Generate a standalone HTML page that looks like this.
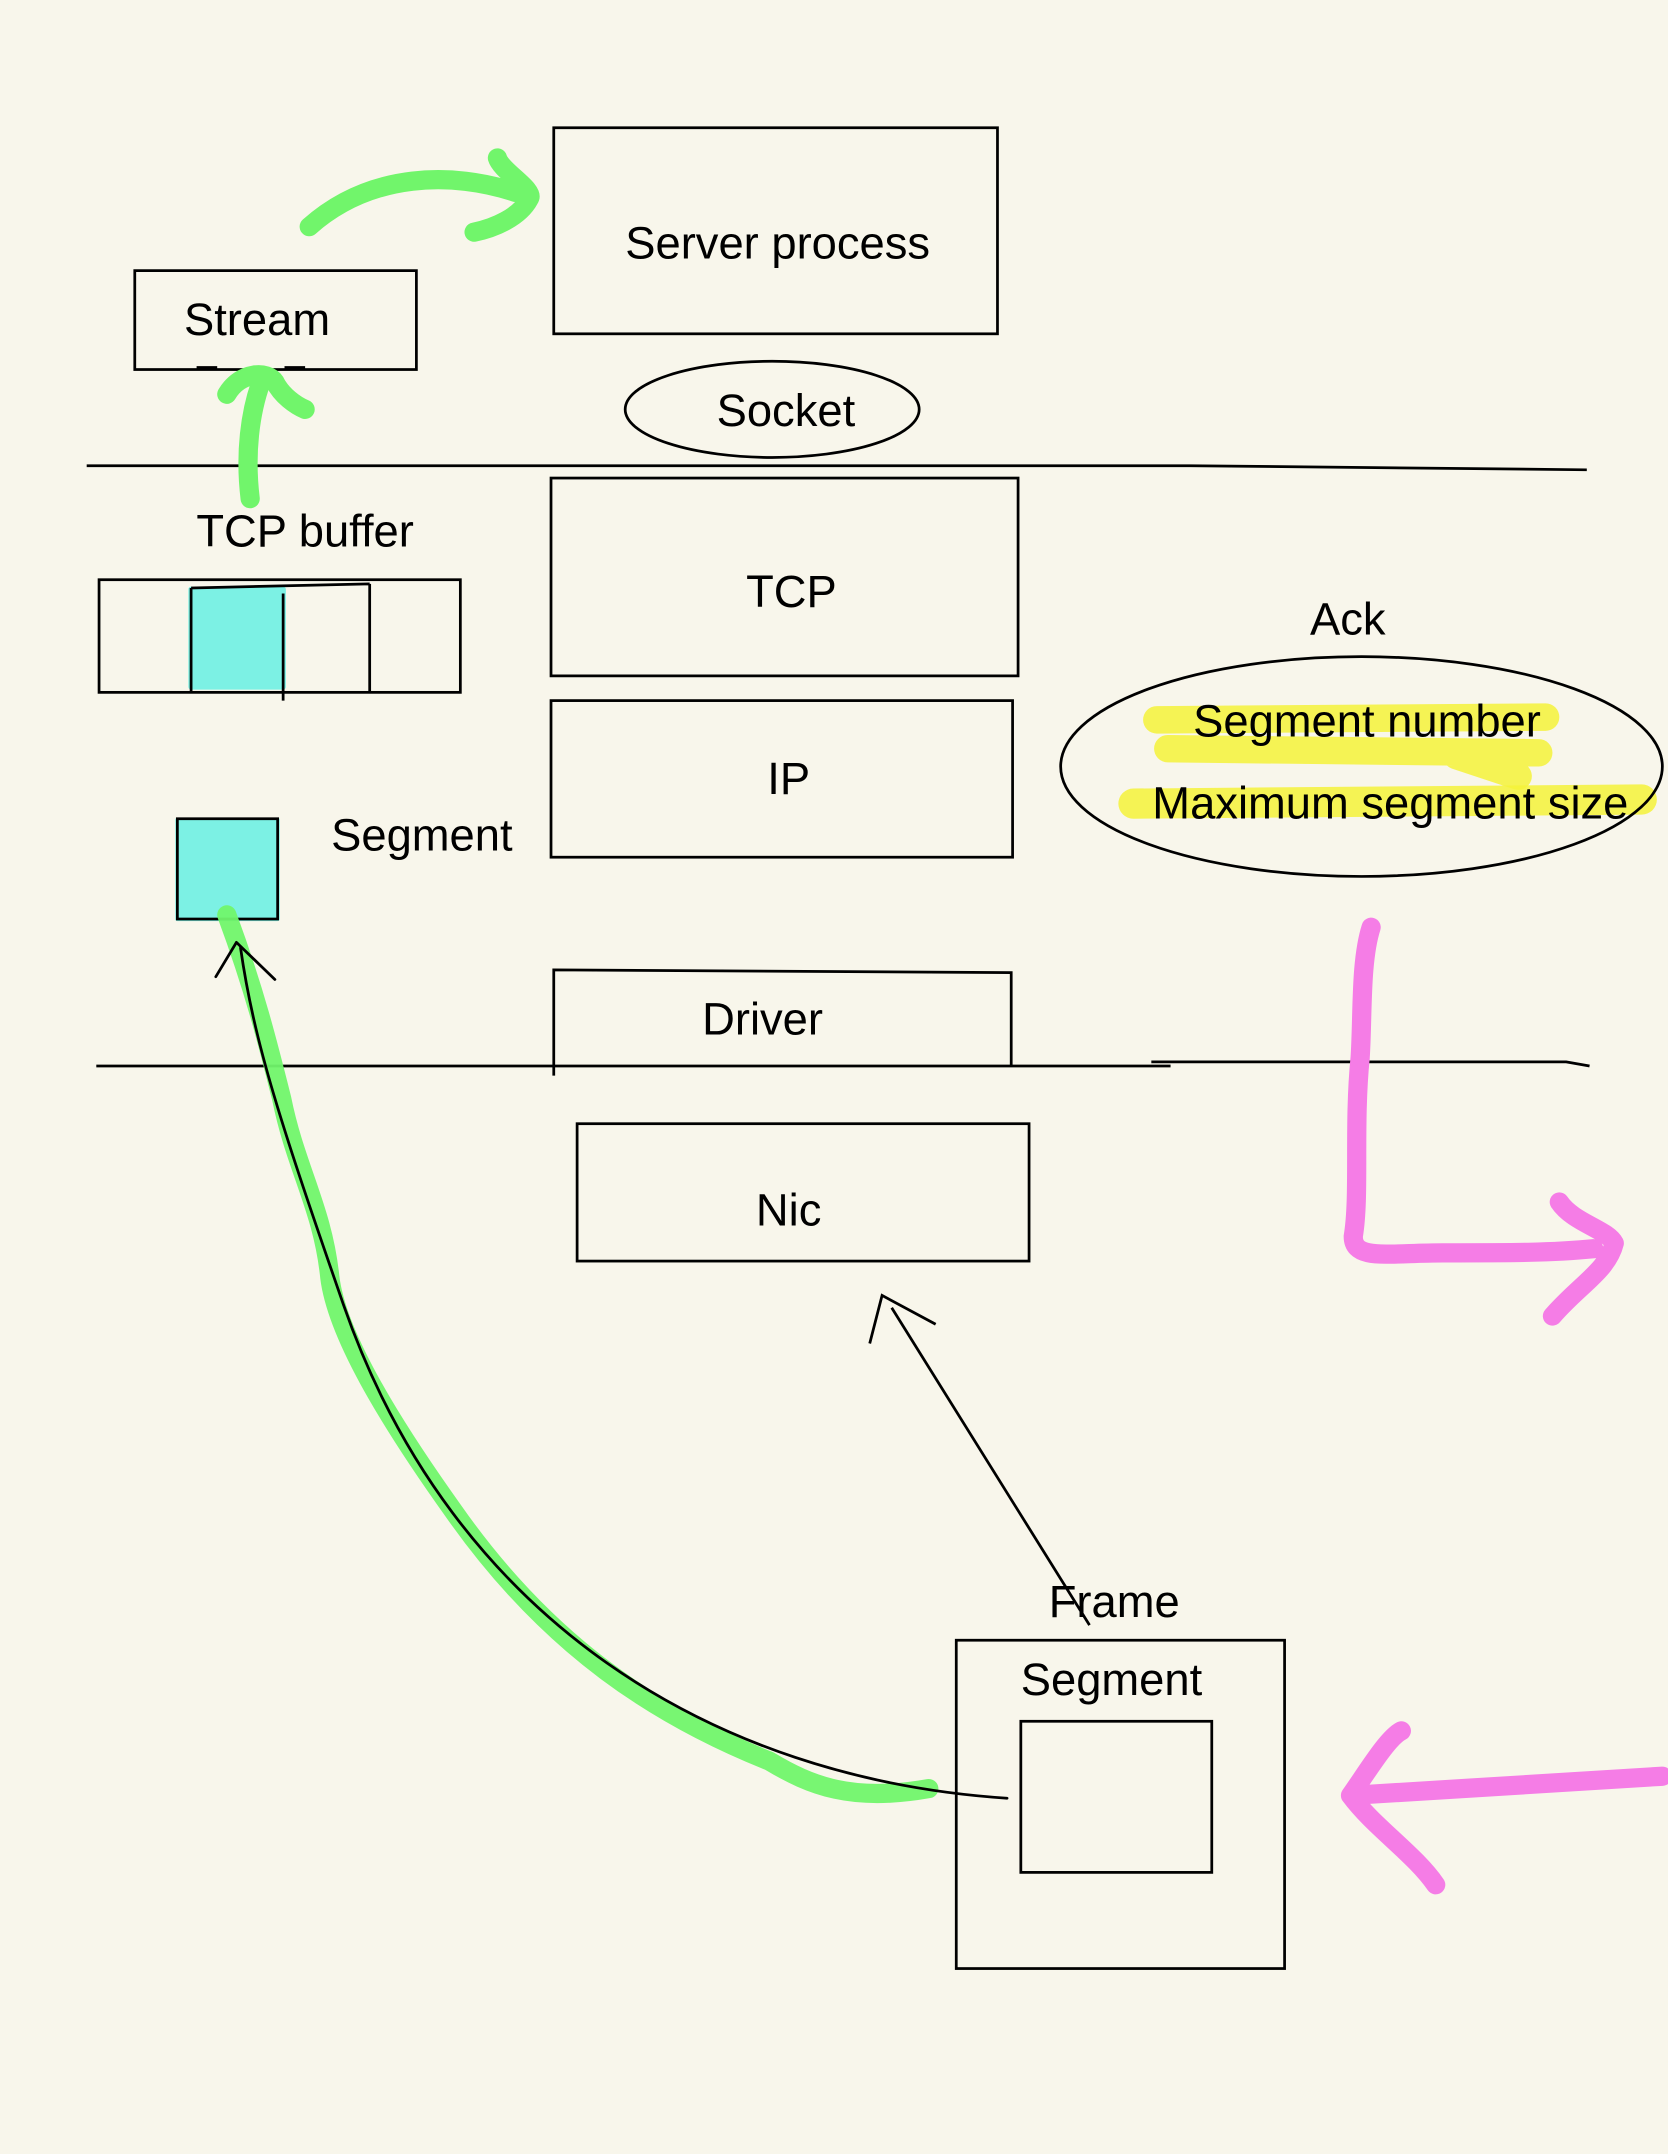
<!DOCTYPE html>
<html><head><meta charset="utf-8"><style>
html,body{margin:0;padding:0;background:#f8f6eb;}
svg{display:block;}
text{font-family:"Liberation Sans",sans-serif;font-size:33px;fill:#000;}
</style></head><body>
<svg width="1668" height="2154" viewBox="0 0 1214 1568" xmlns="http://www.w3.org/2000/svg">
<rect width="1214" height="1568" fill="#f8f6eb"/>
<g fill="none" stroke-linecap="round" stroke-linejoin="round">
<path d="M842 524 L1125 522 M850 545 L1120 548 M1060 550 L1105 565" stroke="#f5f23a" stroke-width="20" opacity="0.85"/>
<path d="M825 585 L1195 582" stroke="#f5f23a" stroke-width="22" opacity="0.85"/>
<rect x="139" y="429" width="67" height="71" fill="#7cf1e4" stroke="#7cf1e4" stroke-width="4"/>
<rect x="129" y="597" width="73" height="72" fill="#7cf1e4" stroke="#7cf1e4" stroke-width="3"/>
</g>
<g fill="none" stroke="#000" stroke-width="2">
<rect x="403" y="93" width="323" height="150"/>
<rect x="98" y="197" width="205" height="72"/>
<path d="M143 268 h15 M207 268 h15" stroke-width="3"/>
<ellipse cx="562" cy="298" rx="107" ry="35"/>
<path d="M63 339 L866 339 L1155 342"/>
<rect x="72" y="422" width="263" height="82"/>
<path d="M139 428 L269 425 M139 428 L139 504 M206 432 L206 510 M269 425 L269 504"/>
<rect x="401" y="348" width="340" height="144"/>
<rect x="401" y="510" width="336" height="114"/>
<ellipse cx="991" cy="558" rx="219" ry="80"/>
<rect x="129" y="596" width="73" height="73"/>
<path d="M403 783 L403 706 L736 708 L736 776"/>
<path d="M70 776 L852 776 M838 773 L1140 773 L1157 776"/>
<rect x="420" y="818" width="329" height="100"/>
<path d="M793 1183 L649 952 M633 978 L642 943 L681 964"/>
<rect x="696" y="1194" width="239" height="239"/>
<rect x="743" y="1253" width="139" height="110"/>
</g>
<g fill="none" stroke-linecap="round" stroke-linejoin="round">
<path d="M676 1302 C620 1312 590 1300 560 1282 C480 1250 400 1200 330 1100 C280 1030 245 970 240 930 C235 880 215 850 205 800 C195 760 185 720 165 666" stroke="#71f56b" stroke-width="14" opacity="0.95"/>
<path d="M733 1309 C520 1295 330 1180 250 950 C205 820 185 760 175 690" stroke="#000" stroke-width="2"/>
<path d="M157 711 L172 686 L200 713" stroke="#000" stroke-width="2"/>
<path d="M225 165 C270 125 330 125 375 140 M362 115 C365 125 390 138 385 145 C378 158 360 166 345 169" stroke="#71f56b" stroke-width="14"/>
<path d="M182 363 C178 330 182 300 190 278 M165 287 C175 270 195 270 200 278 C205 288 215 295 222 298" stroke="#71f56b" stroke-width="14"/>
<path d="M998 675 C990 700 992 740 990 770 C985 820 990 870 985 900 C985 918 1010 912 1050 912 C1100 912 1130 912 1160 909 M1135 875 C1145 890 1170 895 1175 905 C1170 925 1150 935 1130 958" stroke="#f57de6" stroke-width="14"/>
<path d="M1210 1293 L983 1307 M1020 1260 C1010 1265 995 1290 983 1307 C1000 1330 1030 1350 1045 1372" stroke="#f57de6" stroke-width="14"/>
</g>
<text x="566" y="188" text-anchor="middle">Server process</text>
<text x="187" y="244" text-anchor="middle">Stream</text>
<text x="572" y="310" text-anchor="middle">Socket</text>
<text x="222" y="398" text-anchor="middle">TCP buffer</text>
<text x="576" y="442" text-anchor="middle">TCP</text>
<text x="574" y="578" text-anchor="middle">IP</text>
<text x="981" y="462" text-anchor="middle">Ack</text>
<text x="995" y="536" text-anchor="middle">Segment number</text>
<text x="1012" y="596" text-anchor="middle">Maximum segment size</text>
<text x="307" y="619" text-anchor="middle">Segment</text>
<text x="555" y="753" text-anchor="middle">Driver</text>
<text x="574" y="892" text-anchor="middle">Nic</text>
<text x="811" y="1177" text-anchor="middle">Frame</text>
<text x="809" y="1234" text-anchor="middle">Segment</text>
</svg>
</body></html>
